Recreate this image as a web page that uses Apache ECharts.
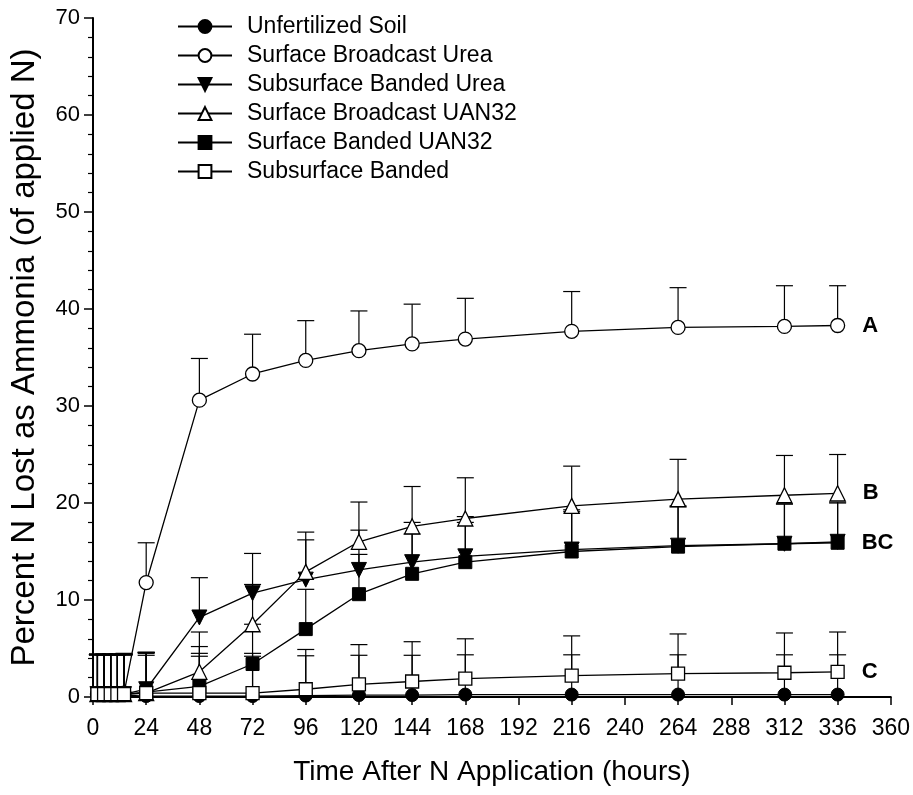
<!DOCTYPE html>
<html>
<head>
<meta charset="utf-8">
<script src="https://cdn.jsdelivr.net/npm/echarts@6/dist/echarts.min.js"></script>
<style>
html,body{margin:0;padding:0;background:#fff;}
#chart{width:913px;height:795px;}
</style>
</head>
<body>
<div id="chart"></div>
<script>
// Sampling times (hours after N application)
const hours = [2, 5, 8, 11, 14, 24, 48, 72, 96, 120, 144, 168, 216, 264, 312, 336];

// Percent N lost as ammonia (of applied N)
const unfertilizedSoil      = [0.2, 0.2, 0.2, 0.2, 0.2, 0.1, 0.1, 0.1, 0.15, 0.2, 0.2, 0.25, 0.25, 0.25, 0.25, 0.25];
const surfaceBroadcastUrea  = [0.3, 0.3, 0.3, 0.3, 0.4, 11.8, 30.6, 33.3, 34.7, 35.7, 36.4, 36.9, 37.7, 38.1, 38.2, 38.3];
const subsurfaceBandedUrea  = [0.3, 0.3, 0.3, 0.3, 0.3, 0.8, 8.2, 10.7, 12.1, 13.1, 13.9, 14.5, 15.2, 15.6, 15.8, 16.0];
const surfaceBroadcastUAN32 = [0.3, 0.3, 0.3, 0.3, 0.3, 0.4, 2.6, 7.5, 12.9, 16.0, 17.6, 18.4, 19.7, 20.4, 20.8, 21.0];
const surfaceBandedUAN32    = [0.3, 0.3, 0.3, 0.3, 0.3, 0.5, 1.1, 3.4, 7.0, 10.6, 12.7, 13.9, 15.0, 15.5, 15.8, 15.9];
const subsurfaceBanded      = [0.3, 0.3, 0.3, 0.3, 0.3, 0.4, 0.4, 0.4, 0.8, 1.3, 1.6, 1.9, 2.2, 2.4, 2.5, 2.6];

// Standard error (upper error bars)
const seUnfertilizedSoil      = [4.1, 4.1, 4.1, 4.1, 4.1, 4.2, 4.1, 4.1, 4.1, 4.1, 4.1, 4.1, 4.1, 4.1, 4.1, 4.1];
const seSurfaceBroadcastUrea  = [4.1, 4.1, 4.1, 4.1, 4.1, 4.1, 4.3, 4.1, 4.1, 4.1, 4.1, 4.2, 4.1, 4.1, 4.2, 4.1];
const seSubsurfaceBandedUrea  = [4.1, 4.1, 4.1, 4.1, 4.1, 3.8, 4.1, 4.1, 4.1, 4.1, 4.1, 4.1, 4.1, 4.1, 4.1, 4.1];
const seSurfaceBroadcastUAN32 = [4.1, 4.1, 4.1, 4.1, 4.1, 4.1, 4.1, 4.1, 4.1, 4.1, 4.1, 4.2, 4.1, 4.1, 4.1, 4.0];
const seSurfaceBandedUAN32    = [4.1, 4.1, 4.1, 4.1, 4.1, 4.1, 4.1, 4.1, 4.1, 4.1, 4.1, 4.1, 4.1, 4.1, 4.1, 4.1];
const seSubsurfaceBanded      = [4.1, 4.1, 4.1, 4.1, 4.1, 4.2, 4.1, 4.1, 4.1, 4.1, 4.1, 4.1, 4.1, 4.1, 4.1, 4.1];

// Letter groupings at last sampling time
const groupLetters = { sbu: 'A', sbuan: 'B', sbduan: 'BC', ssb: 'C' };

const seriesNames = [
  'Unfertilized Soil',
  'Surface Broadcast Urea',
  'Subsurface Banded Urea',
  'Surface Broadcast UAN32',
  'Surface Banded UAN32',
  'Subsurface Banded'
];

const FONT = "'Liberation Sans', Arial, sans-serif";
const NARROW = "'Liberation Sans Narrow', 'Arial Narrow', 'Liberation Sans', sans-serif";

function pts(vals, letter) {
  return hours.map((h, i) => {
    if (letter && i === hours.length - 1) {
      return {
        value: [h, vals[i]],
        label: {
          show: true, formatter: letter, position: 'right', distance: 17,
          fontSize: 22, fontWeight: 'bold', color: '#000', fontFamily: FONT
        }
      };
    }
    return [h, vals[i]];
  });
}

function errData(vals, se) {
  return hours.map((h, i) => [h, vals[i], se[i]]);
}

function errSeries(name, vals, se) {
  return {
    name: 'err ' + name,
    type: 'custom',
    z: 1,
    silent: true,
    data: errData(vals, se),
    renderItem: function (params, api) {
      const x = api.value(0), y = api.value(1), e = api.value(2);
      const p0 = api.coord([x, y]);
      const p1 = api.coord([x, y + e]);
      const hw = 8.5;
      return {
        type: 'group',
        children: [
          { type: 'line', shape: { x1: p0[0], y1: p0[1], x2: p1[0], y2: p1[1] }, style: { stroke: '#000', lineWidth: 1.2 } },
          { type: 'line', shape: { x1: p1[0] - hw, y1: p1[1], x2: p1[0] + hw, y2: p1[1] }, style: { stroke: '#000', lineWidth: 1.2 } }
        ]
      };
    }
  };
}

function lineSeries(name, vals, symbol, filled, size, rotate, letter) {
  return {
    name: name,
    type: 'line',
    z: 3,
    data: pts(vals, letter),
    symbol: symbol,
    symbolSize: size,
    symbolRotate: rotate || 0,
    showSymbol: true,
    showAllSymbol: true,
    animation: false,
    lineStyle: { color: '#000', width: 1.3 },
    itemStyle: filled ? { color: '#000', borderColor: '#000', borderWidth: 1 } : { color: '#fff', borderColor: '#000', borderWidth: 1.3 },
    emphasis: { disabled: true }
  };
}

const chart = echarts.init(document.getElementById('chart'), null, { renderer: 'canvas' });

const option = {
  backgroundColor: '#fff',
  animation: false,
  grid: { left: 93, right: 21, top: 18, bottom: 98, containLabel: false },
  legend: {
    data: seriesNames,
    orient: 'vertical',
    left: 172,
    top: 10,
    itemWidth: 54,
    itemHeight: 16,
    itemGap: 6,
    selectedMode: false,
    textStyle: { fontSize: 23, color: '#000', fontFamily: FONT, padding: [0, 0, 0, 10] }
  },
  xAxis: {
    type: 'value',
    min: 0, max: 360, interval: 24,
    name: 'Time After N Application (hours)',
    nameLocation: 'middle',
    nameGap: 61,
    nameTextStyle: { fontSize: 28, color: '#000', fontFamily: FONT },
    axisLine: { lineStyle: { color: '#000', width: 2 } },
    axisTick: { show: true, inside: false, length: 8, lineStyle: { color: '#000', width: 1.5 } },
    axisLabel: { color: '#000', fontSize: 23, margin: 20, fontFamily: NARROW },
    splitLine: { show: false }
  },
  yAxis: {
    type: 'value',
    min: 0, max: 70, interval: 10,
    name: 'Percent N Lost as Ammonia (of applied N)',
    nameLocation: 'middle',
    nameGap: 52,
    nameRotate: 90,
    nameTextStyle: { fontSize: 33, color: '#000', fontFamily: FONT },
    axisLine: { show: true, lineStyle: { color: '#000', width: 2 } },
    axisTick: { show: true, inside: false, length: 9, lineStyle: { color: '#000', width: 1.5 } },
    minorTick: { show: true, splitNumber: 5, length: 5, lineStyle: { color: '#000', width: 1.2 } },
    axisLabel: { color: '#000', fontSize: 22, margin: 13, fontFamily: FONT },
    splitLine: { show: false },
    minorSplitLine: { show: false }
  },
  series: [
    errSeries(seriesNames[0], unfertilizedSoil, seUnfertilizedSoil),
    errSeries(seriesNames[1], surfaceBroadcastUrea, seSurfaceBroadcastUrea),
    errSeries(seriesNames[2], subsurfaceBandedUrea, seSubsurfaceBandedUrea),
    errSeries(seriesNames[3], surfaceBroadcastUAN32, seSurfaceBroadcastUAN32),
    errSeries(seriesNames[4], surfaceBandedUAN32, seSurfaceBandedUAN32),
    errSeries(seriesNames[5], subsurfaceBanded, seSubsurfaceBanded),
    lineSeries(seriesNames[0], unfertilizedSoil, 'circle', true, 13, 0, null),
    lineSeries(seriesNames[1], surfaceBroadcastUrea, 'circle', false, 14, 0, groupLetters.sbu),
    lineSeries(seriesNames[2], subsurfaceBandedUrea, 'triangle', true, 15, 180, null),
    lineSeries(seriesNames[3], surfaceBroadcastUAN32, 'triangle', false, 15, 0, groupLetters.sbuan),
    lineSeries(seriesNames[4], surfaceBandedUAN32, 'rect', true, 13, 0, groupLetters.sbduan),
    lineSeries(seriesNames[5], subsurfaceBanded, 'rect', false, 13, 0, groupLetters.ssb)
  ]
};

chart.setOption(option);
</script>
</body>
</html>
